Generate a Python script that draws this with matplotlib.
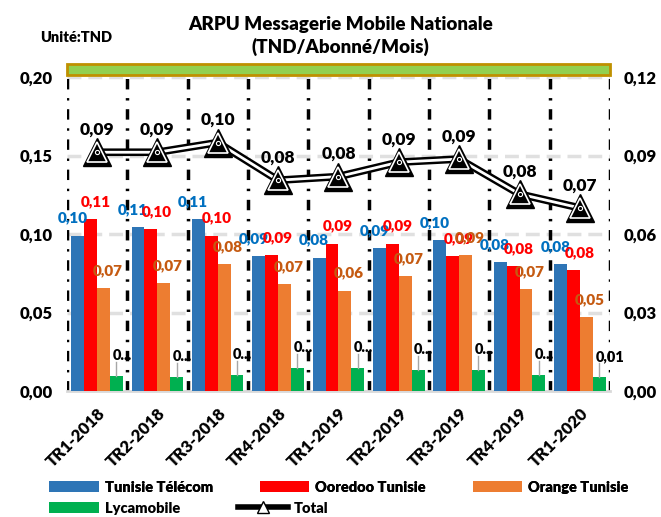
import numpy as np
import matplotlib
matplotlib.use("Agg")
import matplotlib.pyplot as plt
import matplotlib.transforms as mtrans
from matplotlib.patches import Rectangle
from matplotlib.lines import Line2D

plt.rcParams['font.family'] = ['Lato', 'DejaVu Sans']
plt.rcParams['font.weight'] = 'heavy'
W = 'heavy'

quarters = ["TR1-2018", "TR2-2018", "TR3-2018", "TR4-2018", "TR1-2019",
            "TR2-2019", "TR3-2019", "TR4-2019", "TR1-2020"]
tt = [0.099, 0.1045, 0.1095, 0.086, 0.085, 0.091, 0.096, 0.082, 0.081]
ooredoo = [0.1095, 0.103, 0.099, 0.0865, 0.094, 0.094, 0.086, 0.0795, 0.077]
orange = [0.0655, 0.069, 0.081, 0.068, 0.064, 0.073, 0.0865, 0.065, 0.047]
lyca = [0.0096, 0.0089, 0.0102, 0.0146, 0.0146, 0.0136, 0.0133, 0.0102, 0.009]
total = [0.0913, 0.0913, 0.095, 0.0806, 0.082, 0.0875, 0.0887, 0.0753, 0.070]
tt_lbl = ["0,10", "0,11", "0,11", "0,09", "0,08", "0,09", "0,10", "0,08", "0,08"]
oo_lbl = ["0,11", "0,10", "0,10", "0,09", "0,09", "0,09", "0,09", "0,08", "0,08"]
or_lbl = ["0,07", "0,07", "0,08", "0,07", "0,06", "0,07", "0,09", "0,07", "0,05"]
ly_lbl = ["0...", "0...", "0...", "0...", "0...", "0...", "0...", "0...", "0,01"]
tot_lbl = ["0,09", "0,09", "0,10", "0,08", "0,08", "0,09", "0,09", "0,08", "0,07"]

c_tt, c_oo, c_or, c_ly = "#2E75B6", "#FF0000", "#ED7D31", "#00B050"

fig = plt.figure(figsize=(6.61, 5.17), dpi=100)
ax = fig.add_axes([0.101, 0.2437, 0.822, 0.607])
x = np.arange(len(quarters))
w = 0.213
series = [(tt, c_tt, "Tunisie Télécom"), (ooredoo, c_oo, "Ooredoo Tunisie"),
          (orange, c_or, "Orange Tunisie"), (lyca, c_ly, "Lycamobile")]
for k, (vals, col, name) in enumerate(series):
    ax.bar(x + (k - 1.5) * w, vals, w, color=col, label=name, zorder=3)

# data labels
for i in range(len(x)):
    ax.text(x[i] - 1.9 * w, tt[i] + 0.007, tt_lbl[i], color="#0070C0", ha="center",
            va="bottom", fontsize=11, fontweight=W, zorder=5)
    ax.text(x[i] - 0.05 * w, ooredoo[i] + 0.007, oo_lbl[i], color="#FF0000", ha="center",
            va="bottom", fontsize=11, fontweight=W, zorder=5)
    ax.text(x[i] + 0.8 * w, orange[i] + 0.007, or_lbl[i], color="#C55A11", ha="center",
            va="bottom", fontsize=11, fontweight=W, zorder=5)
    ax.plot([x[i] + 1.5 * w, x[i] + 1.5 * w], [lyca[i], lyca[i] + 0.009],
            color="#A6A6A6", lw=1, zorder=4)
    ax.text(x[i] + 1.2 * w, lyca[i] + 0.009, ly_lbl[i], color="black", ha="left",
            va="bottom", fontsize=10.5, fontweight=W, zorder=5)

ax.set_xlim(-0.5, len(x) - 0.5)
ax.set_ylim(0, 0.20)
ax.set_yticks([0, 0.05, 0.10, 0.15, 0.20])
ax.set_yticklabels(["0,00", "0,05", "0,10", "0,15", "0,20"], fontsize=12, fontweight=W)
ax.set_xticks(x)
ax.set_xticklabels(quarters, rotation=45, ha="right", rotation_mode="anchor",
                   fontsize=12, fontweight=W)
shift = mtrans.ScaledTranslation(0.17, 0, fig.dpi_scale_trans)
for lab in ax.get_xticklabels():
    lab.set_transform(lab.get_transform() + shift)
ax.tick_params(length=0, pad=10)
for s in ["top", "left", "right"]:
    ax.spines[s].set_visible(False)
ax.spines["bottom"].set_color("#D9D9D9")
ax.spines["bottom"].set_linewidth(2)
for yv in [0.05, 0.10, 0.15, 0.20]:
    ax.axhline(yv, color="#E0E0E0", lw=2.5, dashes=(4, 2), zorder=1)
for xv in np.arange(len(x) + 1) - 0.5:
    ax.axvline(xv, color="black", lw=2.5, dashes=(3, 2.5, 0.7, 2.5), zorder=2)

# band on top
ax.add_patch(Rectangle((0, 1.006), 1, 0.036, transform=ax.transAxes, clip_on=False,
                       facecolor="#92D050", edgecolor="#BF9000", lw=2, zorder=6))

ax2 = ax.twinx()
ax2.set_ylim(0, 0.12)
ax2.set_yticks([0, 0.03, 0.06, 0.09, 0.12])
ax2.set_yticklabels(["0,00", "0,03", "0,06", "0,09", "0,12"], fontsize=12, fontweight=W)
ax2.tick_params(length=0, pad=10)
for s in ax2.spines.values():
    s.set_visible(False)
ax2.plot(x, total, color="black", lw=5.5, zorder=3, solid_joinstyle="round")
ax2.plot(x, total, color="white", lw=2, zorder=4, solid_joinstyle="round")
ax2.plot(x, total, ls="none", marker="^", ms=20, mfc="black", mec="black", zorder=5)
ax2.plot(x, total, ls="none", marker="^", ms=15, mfc="black", mec="white", mew=1.2, zorder=6)
ax2.plot(x, total, ls="none", marker="o", ms=3, mfc="black", mec="white", mew=0.8, zorder=7)
for i in range(len(x)):
    ax2.text(x[i], total[i] + 0.0055, tot_lbl[i], ha="center", va="bottom",
             fontsize=12.5, fontweight=W, color="black", zorder=8)

fig.text(0.515, 0.93, "ARPU Messagerie Mobile Nationale\n(TND/Abonné/Mois)",
         ha="center", va="center", fontsize=13.5, fontweight=W, linespacing=1.3)
fig.text(0.06, 0.927, "Unité:TND", ha="left", va="center", fontsize=10.5, fontweight=W)

h, l = ax.get_legend_handles_labels()
tot_handle = Line2D([], [], color="black", lw=4, marker="^", ms=9, mfc="white", mec="black")
leg1 = fig.legend(h[:3], l[:3], loc="center left", bbox_to_anchor=(0.055, 0.058), ncol=3,
                  frameon=False, fontsize=10.5, handlelength=3.4, handleheight=0.8,
                  columnspacing=3.2, handletextpad=0.4)
fig.legend([h[3], tot_handle], [l[3], "Total"], loc="center left",
           bbox_to_anchor=(0.055, 0.017), ncol=2, frameon=False, fontsize=10.5,
           handlelength=3.4, handleheight=0.8, columnspacing=4.0, handletextpad=0.4)
fig.add_artist(leg1)

fig.savefig("out.png", dpi=100)
